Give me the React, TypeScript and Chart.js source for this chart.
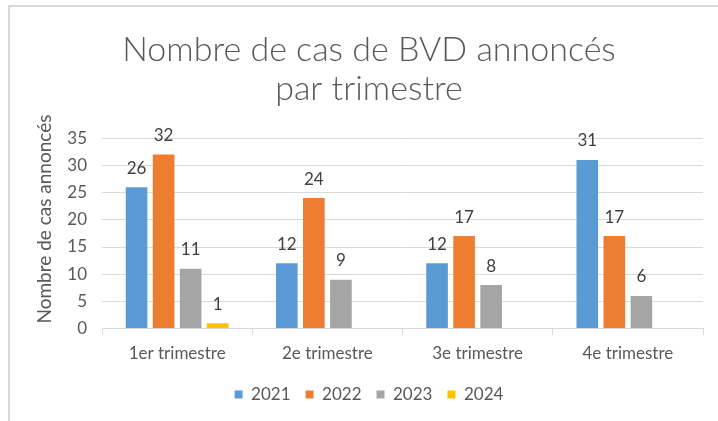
import React, { useEffect, useRef } from "react";
import { Chart, registerables } from "chart.js";

Chart.register(...registerables);

const categories = ["1er trimestre", "2e trimestre", "3e trimestre", "4e trimestre"];
const seriesNames = ["2021", "2022", "2023", "2024"];
const values2021 = [26, 12, 12, 31];
const values2022 = [32, 24, 17, 17];
const values2023 = [11, 9, 8, 6];
const values2024: (number | null)[] = [1, null, null, null];
const seriesColors = ["#5B9BD5", "#ED7D31", "#A5A5A5", "#FFC000"];
const titleLines = ["Nombre de cas de BVD annoncés", "par trimestre"];
const yAxisTitle = "Nombre de cas annoncés";

const FONT = "Lato, 'Open Sans', sans-serif";
const TEXT = "#595959";

const dataLabelPlugin = {
  id: "dataLabels",
  afterDatasetsDraw(chart: any) {
    const ctx = chart.ctx;
    ctx.save();
    ctx.font = `17px ${FONT}`;
    ctx.fillStyle = "#404040";
    ctx.textAlign = "center";
    ctx.textBaseline = "middle";
    chart.data.datasets.forEach((ds: any, i: number) => {
      const meta = chart.getDatasetMeta(i);
      meta.data.forEach((bar: any, j: number) => {
        const v = ds.data[j];
        if (v === null || v === undefined) return;
        ctx.fillText(String(v), bar.x, bar.y - 19);
      });
    });
    ctx.restore();
  },
};

const yTitlePlugin = {
  id: "yTitle",
  afterDraw(chart: any) {
    const ctx = chart.ctx;
    ctx.save();
    ctx.font = `19px ${FONT}`;
    ctx.fillStyle = TEXT;
    ctx.textAlign = "center";
    ctx.textBaseline = "middle";
    ctx.translate(45, 219);
    ctx.rotate(-Math.PI / 2);
    ctx.fillText(yAxisTitle, 0, 0);
    ctx.restore();
  },
};

export default function App() {
  const ref = useRef<HTMLCanvasElement>(null);
  useEffect(() => {
    if (!ref.current) return;
    const data = [values2021, values2022, values2023, values2024];
    const chart = new Chart(ref.current, {
      type: "bar",
      data: {
        labels: categories,
        datasets: seriesNames.map((name, i) => ({
          label: name,
          data: data[i],
          backgroundColor: seriesColors[i],
          borderWidth: 0,
          categoryPercentage: 0.72,
          barPercentage: 0.8,
        })),
      },
      options: {
        animation: false,
        responsive: false,
        layout: { padding: { left: 35, right: 15, top: 0, bottom: 8 } },
        plugins: {
          title: {
            display: true,
            text: titleLines,
            color: TEXT,
            font: { family: FONT, size: 34, weight: 300, lineHeight: 1.15 },
            padding: { top: 30, bottom: 30 },
          },
          legend: {
            position: "bottom",
            labels: {
              color: TEXT,
              font: { family: FONT, size: 17 },
              boxWidth: 8,
              boxHeight: 8,
              padding: 15,
            },
          },
          tooltip: { enabled: false },
        },
        scales: {
          x: {
            grid: {
              display: true,
              drawOnChartArea: false,
              drawTicks: true,
              tickLength: 6,
              color: "#D9D9D9",
              offset: true,
            },
            border: { display: true, color: "#D9D9D9" },
            ticks: { color: TEXT, font: { family: FONT, size: 17 }, padding: 9 },
            afterFit(scale: any) {
              scale.height -= 2;
            },
          },
          y: {
            min: 0,
            max: 35,
            ticks: { stepSize: 5, color: TEXT, font: { family: FONT, size: 17 }, padding: 15 },
            grid: { color: "#D9D9D9", drawTicks: false },
            border: { display: false },
            afterFit(scale: any) {
              scale.width = 67;
            },
          },
        },
      },
      plugins: [dataLabelPlugin, yTitlePlugin],
    });
    return () => chart.destroy();
  }, []);

  return (
    <div style={{ position: "fixed", left: 0, top: 0, width: 718, height: 421, background: "#fff", overflow: "hidden" }}>
      <div
        style={{
          position: "absolute",
          left: 8,
          top: 5,
          width: 720,
          height: 430,
          borderTop: "2px solid #D9D9D9",
          borderLeft: "2px solid #D9D9D9",
        }}
      />
      <canvas ref={ref} width={718} height={421} style={{ position: "absolute", left: 0, top: 0 }} />
    </div>
  );
}
